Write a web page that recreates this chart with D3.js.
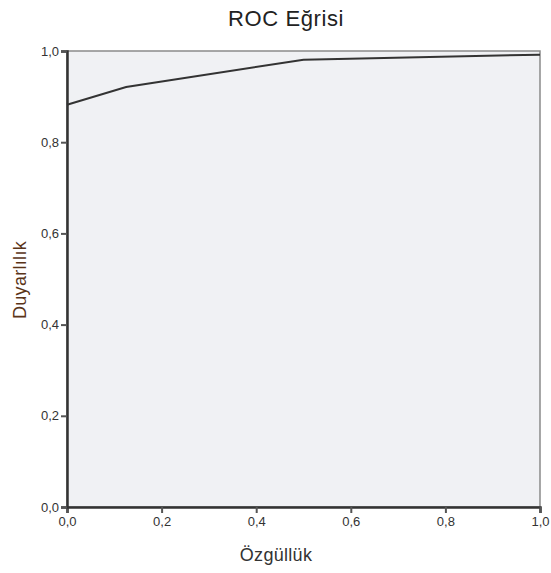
<!DOCTYPE html>
<html>
<head>
<meta charset="utf-8">
<script src="https://cdn.jsdelivr.net/npm/d3@7"></script>
<style>
  body { margin: 0; background: #fff; }
  text { font-family: "Liberation Sans", Arial, sans-serif; }
</style>
</head>
<body>
<div id="chart"></div>
<script>
// ROC egrisi noktalari (ozgulluk, duyarlilik)
var specificity = [0.0, 0.125, 0.5, 1.0];
var sensitivity = [0.882, 0.921, 0.981, 0.992];
var tickValues = [0, 0.2, 0.4, 0.6, 0.8, 1.0];

var width = 551,
    height = 573,
    plotLeft = 67, plotRight = 540,
    plotTop = 51, plotBottom = 507;

var fmt = function(d){ return d3.format(".1f")(d).replace(".", ","); };

var svg = d3.select("#chart")
  .append("svg")
  .attr("width", width)
  .attr("height", height);

var x = d3.scaleLinear().domain([0, 1]).range([plotLeft, plotRight]);
var y = d3.scaleLinear().domain([0, 1]).range([plotBottom, plotTop]);

// plot background
svg.append("rect")
  .attr("x", x(0))
  .attr("y", y(1))
  .attr("width", x(1) - x(0))
  .attr("height", y(0) - y(1))
  .attr("fill", "#f0f1f4")
  .attr("stroke", "#8a8a8a")
  .attr("stroke-width", 1.5);

// axes
var xAxis = svg.append("g")
  .attr("transform", "translate(0," + y(0) + ")")
  .call(d3.axisBottom(x).tickValues(tickValues).tickFormat(fmt).tickSizeOuter(0).tickSize(6).tickPadding(4));

var yAxis = svg.append("g")
  .attr("transform", "translate(" + x(0) + ",0)")
  .call(d3.axisLeft(y).tickValues(tickValues).tickFormat(fmt).tickSizeOuter(0).tickSize(6).tickPadding(2));

[xAxis, yAxis].forEach(function(a){
  a.select(".domain").attr("stroke", "#333").attr("stroke-width", 2.5);
  a.selectAll(".tick line").attr("stroke", "#555").attr("stroke-width", 2);
  a.selectAll(".tick text")
    .attr("fill", "#333")
    .style("font-size", "13px")
    .style("font-family", "'Liberation Sans', Arial, sans-serif");
});

// curve
var pts = specificity.map(function(s, i){ return [s, sensitivity[i]]; });
svg.append("path")
  .datum(pts)
  .attr("fill", "none")
  .attr("stroke", "#333")
  .attr("stroke-width", 2)
  .attr("d", d3.line()
    .x(function(d){ return x(d[0]); })
    .y(function(d){ return y(d[1]); }));

// titles
svg.append("text")
  .attr("x", 286)
  .attr("y", 26)
  .attr("text-anchor", "middle")
  .attr("fill", "#222")
  .style("font-size", "22px")
  .style("letter-spacing", "0.6px")
  .text("ROC Eğrisi");

svg.append("text")
  .attr("x", 276)
  .attr("y", 561)
  .attr("text-anchor", "middle")
  .attr("fill", "#333")
  .style("font-size", "18px")
  .style("letter-spacing", "0.3px")
  .text("Özgüllük");

svg.append("text")
  .attr("transform", "translate(26,280) rotate(-90)")
  .attr("text-anchor", "middle")
  .attr("fill", "#5a3418")
  .style("font-size", "18px")
  .style("letter-spacing", "0.3px")
  .text("Duyarlılık");
</script>
</body>
</html>
